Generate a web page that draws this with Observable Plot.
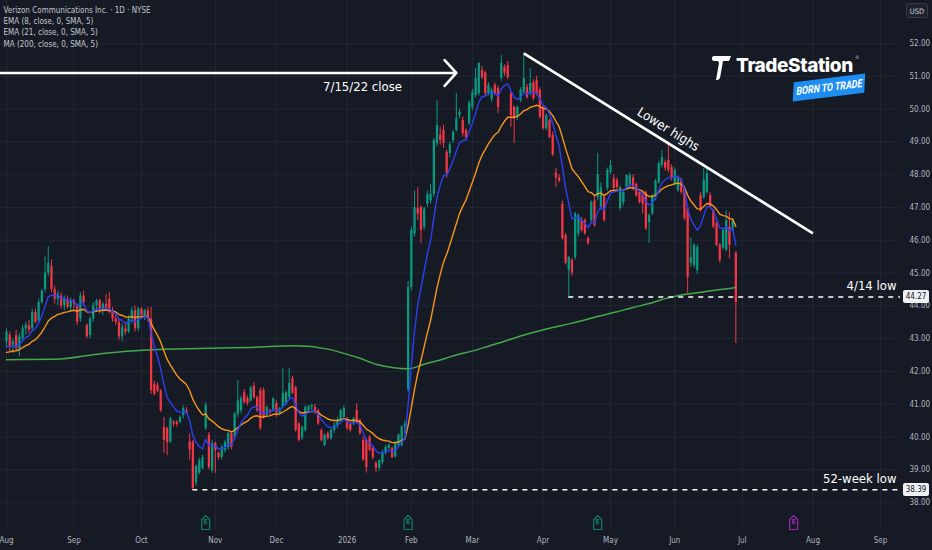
<!DOCTYPE html>
<html><head><meta charset="utf-8">
<script src="https://cdn.jsdelivr.net/npm/d3@7"></script>
<script src="https://cdn.jsdelivr.net/npm/@observablehq/plot@0.6"></script>
<style>
html,body{margin:0;padding:0;background:#161a25;}
#wrap{position:relative;width:932px;height:550px;background:#161a25;overflow:hidden;
  font-family:"Liberation Sans Narrow","DejaVu Sans Condensed","Roboto Condensed",Roboto,sans-serif;}
.pbox{position:absolute;left:903px;width:26px;height:13px;background:#eef0f4;color:#131722;font-size:8px;
  line-height:13px;text-align:center;border-radius:2px;}
#usd{position:absolute;left:906px;top:3px;width:22px;height:15px;background:#1e222d;border:1px solid #363a45;
  border-radius:3px;color:#d1d4dc;font-size:7.5px;line-height:15px;text-align:center;box-sizing:border-box;}
#logo{position:absolute;left:710px;top:52px;width:170px;height:55px;}
#logo .ts{position:absolute;left:26px;top:2px;color:#fff;font-family:Inter,"Open Sans",sans-serif;font-weight:800;
  font-size:19px;letter-spacing:-0.4px;line-height:24px;}
#logo .reg{position:absolute;left:145px;top:2px;color:#bbb;font-size:5px;}
#logo .btt{position:absolute;left:83px;top:26px;width:72px;height:19px;background:#1d8df0;
  transform:rotate(-7deg) skewX(-10deg);display:flex;align-items:center;justify-content:center;}
#logo .btt span{display:inline-block;color:#fff;font-weight:700;font-style:italic;font-size:11px;
  transform:skewX(4deg) scaleX(0.82);white-space:nowrap;font-family:"Liberation Sans Narrow",Roboto,sans-serif;}
</style></head><body><div id="wrap"></div><script>
// ---------- data ----------
const legendLines = ["Verizon Communications Inc. · 1D · NYSE","EMA (8, close, 0, SMA, 5)","EMA (21, close, 0, SMA, 5)","MA (200, close, 0, SMA, 5)"];
const monthIdx = [0,21,42,65,84,106,126,145,167,188,208,229,251,272];
const monthLabels = ["Aug","Sep","Oct","Nov","Dec","2026","Feb","Mar","Apr","May","Jun","Jul","Aug","Sep"];
const yTicks = [38,39,40,41,42,43,44,45,46,47,48,49,50,51,52];

const openP = [
42.9,43.1,42.8,43.1,42.7,43.0,43.3,43.4,43.3,43.8,
43.55,44.1,44.5,45.0,45.2,44.5,44.2,44.3,44.0,44.2,
43.95,44.15,44.0,43.6,44.3,43.4,43.1,43.6,44.0,44.15,
43.85,44.05,44.2,43.8,43.6,43.5,43.05,43.3,43.2,43.6,
43.85,43.3,43.9,43.7,43.85,43.6,41.6,41.57,41.4,40.3,
40.26,39.85,40.45,40.45,40.45,40.65,40.8,39.85,39.85,38.6,
38.9,39.04,40.26,40.05,38.98,39.8,39.5,39.37,39.59,39.68,
40.1,40.0,40.7,40.8,41.35,41.17,41.1,41.54,41.2,41.42,
41.42,40.66,40.8,40.8,41.02,40.72,40.9,41.0,41.2,41.78,
41.5,40.4,39.98,40.2,40.8,40.9,40.9,40.8,40.2,39.74,
40.1,39.95,40.2,40.35,40.5,40.6,40.5,40.4,40.4,40.81,
40.5,39.9,39.9,39.98,39.65,39.2,39.05,39.22,39.5,39.65,
39.65,39.4,39.75,39.74,40.3,41.45,44.56,46.2,46.97,47.0,
46.4,47.1,47.2,47.4,48.95,49.2,49.35,48.68,48.65,49.04,
49.35,49.8,49.65,49.35,49.56,50.05,50.41,50.47,51.18,51.1,
50.47,50.3,50.72,50.63,50.93,51.27,51.33,50.47,50.05,49.74,
50.26,50.5,50.66,50.47,50.81,50.87,50.57,50.05,49.4,49.65,
49.2,48.05,47.9,47.1,46.14,45.08,45.38,45.47,46.2,46.6,
46.6,46.05,46.6,47.2,47.3,47.0,47.3,47.58,48.07,47.88,
47.82,46.97,47.15,47.6,47.67,47.9,47.7,47.46,47.4,47.45,
46.54,46.8,47.27,47.76,48.28,48.37,48.43,48.22,47.73,47.52,
47.82,47.58,46.97,45.3,45.23,45.08,47.36,47.3,47.46,47.36,
46.9,46.5,45.85,45.75,45.7,46.4,46.3,45.6];
const highP = [
43.3,43.2,43.0,43.25,43.15,43.4,43.5,43.55,43.9,43.9,
44.2,44.5,45.5,45.8,45.4,44.6,44.45,44.4,44.3,44.3,
44.25,44.2,44.05,44.4,44.45,43.45,43.65,44.1,44.2,44.2,
44.1,44.35,44.4,43.95,43.8,43.6,43.45,43.5,43.7,43.95,
44.0,43.95,43.95,43.9,43.95,43.95,41.7,41.65,41.45,40.6,
40.3,40.6,40.5,40.5,40.65,40.95,40.9,40.1,39.9,39.15,
39.35,39.45,41.05,40.14,39.9,39.85,39.55,39.75,39.9,40.15,
40.15,40.75,41.72,41.25,41.45,41.25,41.55,41.65,41.25,41.5,
41.5,40.95,40.85,41.2,41.1,40.9,42.09,41.4,42.09,41.85,
41.55,40.45,40.35,40.95,40.96,41.0,41.0,40.85,40.25,40.1,
40.15,40.25,40.45,40.6,40.85,40.96,40.6,40.45,40.6,41.02,
40.55,40.0,39.95,40.05,39.7,39.25,39.3,39.6,39.75,39.8,
39.7,39.85,40.1,40.35,40.5,44.75,46.4,47.5,47.6,47.05,
47.0,47.5,47.7,49.1,50.26,49.45,49.5,48.75,49.0,49.35,
50.47,50.0,49.75,49.4,50.25,50.6,51.24,51.42,51.3,51.15,
50.8,50.65,50.8,50.7,51.63,51.35,51.45,50.55,50.1,50.1,
50.65,51.7,50.75,51.24,50.9,51.0,50.65,50.1,49.85,49.7,
49.3,48.2,48.0,47.2,46.2,45.5,45.45,46.85,46.8,46.7,
46.65,46.1,47.2,47.35,48.65,47.75,47.4,48.2,48.43,48.0,
47.9,47.65,47.5,48.0,48.05,48.0,47.75,47.5,47.45,47.5,
46.8,47.4,47.85,48.4,48.73,48.45,48.99,48.3,48.2,47.95,
47.9,47.65,47.05,46.08,45.9,45.85,47.45,48.19,48.2,47.45,
46.95,46.55,45.9,46.35,46.9,46.85,46.65,45.65];
const lowP = [
42.7,42.6,42.55,42.6,42.45,42.9,43.1,43.15,43.2,43.45,
43.5,44.05,44.4,44.9,44.4,44.05,44.0,43.9,43.85,43.9,
43.8,43.9,43.4,43.5,44.0,43.0,43.0,43.5,43.8,43.75,
43.7,43.9,43.75,43.5,43.4,42.95,42.9,43.1,43.15,43.45,
43.2,43.2,43.6,43.55,43.5,41.3,41.25,41.35,40.75,39.5,
39.43,39.8,40.3,40.3,40.4,40.55,40.7,39.3,38.39,38.5,
38.85,39.0,40.2,39.0,38.9,38.89,39.3,39.3,39.5,39.6,
39.6,39.9,40.6,40.7,41.0,40.95,41.05,41.15,40.75,40.2,
40.55,40.6,40.65,40.75,40.6,40.65,40.85,40.95,41.15,41.3,
40.15,39.85,39.9,40.15,40.75,40.8,40.7,40.35,39.85,39.7,
39.9,39.9,40.1,40.25,40.45,40.55,40.2,40.15,40.35,40.4,
40.05,39.25,38.9,39.55,39.3,38.9,38.95,39.15,39.45,39.6,
39.35,39.35,39.7,39.7,40.1,41.35,44.45,46.1,46.6,45.9,
46.3,47.0,47.1,47.3,48.85,48.9,48.8,47.9,48.5,48.95,
49.3,49.7,49.15,49.05,49.5,49.95,50.35,50.4,50.9,50.4,
50.4,50.2,50.4,49.86,50.85,51.0,50.9,49.44,48.95,49.65,
50.2,50.45,50.3,50.4,50.25,50.4,49.7,49.35,49.35,49.1,
48.55,47.6,47.75,46.0,45.25,44.27,44.9,45.4,46.1,46.25,
46.15,45.85,46.5,46.4,47.2,46.9,46.55,47.5,48.0,47.5,
47.55,46.9,47.05,47.55,47.6,47.5,47.3,47.1,46.8,46.3,
45.9,46.75,47.2,47.7,48.2,48.1,48.05,47.8,47.65,47.45,
47.4,46.6,44.38,45.17,45.15,44.95,46.85,47.25,47.4,46.95,
46.35,45.8,45.3,45.7,45.65,45.44,46.25,42.85];
const closeP = [
43.2,42.75,42.9,42.7,43.05,43.3,43.4,43.25,43.8,43.5,
44.1,44.45,45.0,45.3,44.5,44.2,44.35,44.0,44.2,43.95,
44.15,44.05,43.5,44.3,44.1,43.05,43.6,44.0,44.15,43.85,
44.05,43.95,43.8,43.6,43.5,43.05,43.35,43.2,43.6,43.85,
43.3,43.9,43.7,43.85,43.6,41.42,41.3,41.4,40.8,39.9,
39.83,40.55,40.4,40.38,40.6,40.87,40.72,39.6,38.43,39.1,
39.28,39.37,40.96,39.07,39.8,39.59,39.37,39.68,39.83,40.1,
39.68,40.7,41.1,41.17,41.05,41.02,41.5,41.2,40.8,40.26,
40.6,40.9,40.72,41.17,40.66,40.87,41.33,41.35,41.63,41.33,
40.2,39.9,40.29,40.9,40.93,40.95,40.75,40.4,39.9,40.05,
39.95,40.2,40.35,40.5,40.8,40.87,40.26,40.2,40.56,40.44,
40.1,39.3,39.07,39.6,39.37,39.05,39.28,39.53,39.68,39.74,
39.37,39.83,40.05,40.3,40.4,44.56,46.3,47.0,46.8,46.3,
46.95,47.4,47.4,49.04,49.5,49.04,48.95,48.03,48.9,49.29,
49.7,49.9,49.25,49.13,50.17,50.5,50.93,51.39,50.96,50.47,
50.72,50.57,50.47,50.05,51.39,51.09,50.96,49.8,49.7,50.05,
50.57,50.93,50.35,50.78,50.32,50.47,49.75,49.4,49.8,49.13,
48.6,47.9,47.8,46.05,45.3,45.47,45.0,46.8,46.75,46.3,
46.2,45.9,47.15,46.45,48.0,47.6,46.6,48.13,48.28,47.58,
47.6,47.6,47.46,47.97,47.97,47.55,47.35,47.15,47.1,46.35,
46.75,47.36,47.8,48.34,48.52,48.2,48.13,47.88,48.13,47.88,
47.46,46.66,44.87,45.47,45.84,45.78,46.9,47.82,48.03,47.0,
46.4,45.85,45.38,46.3,46.6,45.85,46.6,44.1];

// EMA values at the first visible bar
const ema8Start = 42.76, ema21Start = 42.58;

// 200-day MA (bar index, value)
const ma200Idx = [0,15,30,45,60,75,90,100,105,110,115,120,125,130,135,140,145,150,155,160,165,170,175,180,185,190,195,200,205,210,215,220,225,227];
const ma200Val = [42.36,42.37,42.55,42.66,42.7,42.73,42.78,42.68,42.55,42.4,42.22,42.12,42.08,42.22,42.35,42.5,42.62,42.77,42.92,43.08,43.22,43.34,43.45,43.57,43.7,43.82,43.95,44.07,44.22,44.33,44.4,44.47,44.53,44.56];

// earnings markers (bar index), last one upcoming
const earnIdx = [62,125,184,245];
const earnUpcoming = [false,false,false,true];

// annotations (data space)
const levelPrices = [44.27,38.39];
const levelStartIdx = [175,58];
const levelLabels = ["4/14 low","52-week low"];
const trendStart = {i:161, p:51.7}, trendEnd = {i:251, p:46.21};
const closeLevel = {i1:-4, i2:140, p:51.1, label:"7/15/22 close", labelIdx:110.8};
const trendLabel = {i:206, p:48.95, label:"Lower highs"};

// ---------- chart ----------
const UP="#089981", DN="#f23645", BLUE="#2c3ff2", ORANGE="#f7961b", GREEN="#45a84a";
const FONT='"Liberation Sans Narrow","DejaVu Sans Condensed","Roboto Condensed",Roboto,sans-serif';
const X_DOMAIN=[-1.87,278.25], Y_DOMAIN=[37.15,53.31];

const candles = closeP.map((c,i)=>({i,o:openP[i],h:highP[i],l:lowP[i],c,col:c>=openP[i]?UP:DN}));
const ma200 = ma200Idx.map((i,k)=>({i,v:ma200Val[k]}));
const earnings = earnIdx.map((i,k)=>({i,col:earnUpcoming[k]?"#9c27b0":"#0e7f6c"}));
const levels = levelPrices.map((p,k)=>({p,i:levelStartIdx[k],label:levelLabels[k]}));
const ema = (n,start) => values => { const k=2/(n+1); let e; return values.map((v,j) => (e = j===0 ? start : e + k*(v-e))); };
const tagSymbol = {draw(ctx,size){const s=Math.sqrt(size/Math.PI)/4;
  ctx.moveTo(-4*s,-3*s);ctx.lineTo(0,-7*s);ctx.lineTo(4*s,-3*s);ctx.lineTo(4*s,7*s);ctx.lineTo(-4*s,7*s);ctx.closePath();}};

const plot = Plot.plot({
  width:932, height:550, marginLeft:0, marginRight:32, marginTop:0, marginBottom:20,
  style:{background:"transparent", color:"#b2b5be", fontFamily:FONT, fontSize:"8px"},
  x:{domain:X_DOMAIN, label:null},
  y:{domain:Y_DOMAIN, label:null},
  color:{type:"identity"},
  marks:[
    Plot.gridX(monthIdx,{stroke:"#232735",strokeOpacity:1}),
    Plot.gridY(yTicks,{stroke:"#232735",strokeOpacity:1}),
    Plot.axisX(monthIdx,{tickSize:0,tickPadding:7,tickFormat:d=>monthLabels[monthIdx.indexOf(d)],fill:"#b2b5be"}),
    Plot.axisY(yTicks,{anchor:"right",tickSize:0,tickPadding:9,tickFormat:d=>d.toFixed(2),fill:"#b2b5be"}),
    Plot.text([legendLines.join("\n")],{frameAnchor:"top-left",dx:3,dy:4,lineAnchor:"top",lineHeight:1.42,fontSize:8,fill:"#c3c6ce"}),
    Plot.ruleX(candles,{x:"i",y1:"l",y2:"h",stroke:"col",strokeWidth:1}),
    Plot.ruleX(candles,{x:"i",y1:"o",y2:"c",stroke:"col",strokeWidth:2.3}),
    Plot.line(ma200,{x:"i",y:"v",stroke:GREEN,strokeWidth:1.5,curve:"monotone-x"}),
    Plot.line(candles,Plot.mapY(ema(21,ema21Start),{x:"i",y:"c",stroke:ORANGE,strokeWidth:1.4})),
    Plot.line(candles,Plot.mapY(ema(8,ema8Start),{x:"i",y:"c",stroke:BLUE,strokeWidth:1.4})),
    Plot.ruleY(levels,{y:"p",x1:"i",x2:X_DOMAIN[1],stroke:"#ffffff",strokeWidth:1.5,strokeDasharray:"5,5"}),
    Plot.text(levels,{y:"p",text:"label",frameAnchor:"right",textAnchor:"end",dx:-4,dy:-11,fill:"#ffffff",fontSize:13}),
    Plot.link([0],{x1:trendStart.i,y1:trendStart.p,x2:trendEnd.i,y2:trendEnd.p,stroke:"#ffffff",strokeWidth:2.6}),
    Plot.text([trendLabel],{x:"i",y:"p",text:"label",rotate:31.8,dy:-14,fill:"#ffffff",fontSize:13}),
    Plot.arrow([closeLevel],{x1:"i1",y1:"p",x2:"i2",y2:"p",stroke:"#ffffff",strokeWidth:2.6,headLength:10,headAngle:95,clip:true}),
    Plot.text([closeLevel],{x:"labelIdx",y:"p",text:"label",dy:14,fill:"#ffffff",fontSize:13}),
    Plot.dot(earnings,{x:"i",frameAnchor:"bottom",dy:-8,r:4,symbol:tagSymbol,stroke:"col",fill:"#161a25",strokeWidth:1.2}),
    Plot.text(earnings,{x:"i",text:()=>"E",frameAnchor:"bottom",dy:-7,fontSize:7,fontWeight:"bold",fill:"col"})
  ]
});
const wrap=document.getElementById("wrap");
wrap.appendChild(plot);
const ys=plot.scale("y");
levelPrices.forEach(p=>{const d=document.createElement("div");d.className="pbox";
  d.style.top=(ys.apply(p)-6.5)+"px";d.textContent=p.toFixed(2);wrap.appendChild(d);});
const usd=document.createElement("div");usd.id="usd";usd.textContent="USD";wrap.appendChild(usd);
const logo=document.createElement("div");logo.id="logo";
logo.innerHTML='<svg width="24" height="28" viewBox="0 0 24 28" style="position:absolute;left:0;top:2px">'+
 '<path d="M2 4 Q2 2 4 2 H21 L19 7 H13 L10 24 Q9 26 7 26 H6 L9 9 Q9 7 7 7 H4 Q2 7 2 5 Z" fill="#fff"/></svg>'+
 '<div class="ts">TradeStation</div><div class="reg">®</div><div class="btt"><span>BORN TO TRADE</span></div>';
wrap.appendChild(logo);
</script></body></html>
